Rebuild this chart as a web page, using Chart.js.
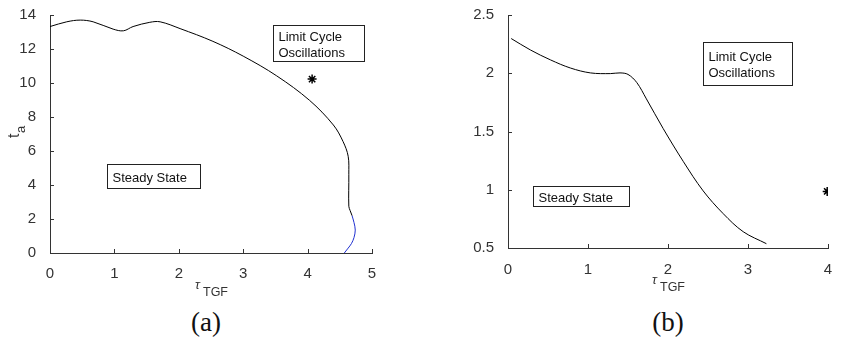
<!DOCTYPE html>
<html>
<head>
<meta charset="utf-8">
<script src="https://cdn.jsdelivr.net/npm/chart.js@4"></script>
<style>
  body { margin: 0; background: #fff; width: 863px; height: 350px; position: relative; overflow: hidden; }
  .panel { position: absolute; top: 0; height: 300px; }
  .cap { position: absolute; top: 307px; font-family: "Liberation Serif", "DejaVu Serif", serif; font-size: 27px; color: #111; transform: translateX(-50%); }
</style>
</head>
<body>
<div class="panel" style="left:0;width:400px"><canvas id="chartA" width="400" height="300"></canvas></div>
<div class="panel" style="left:430px;width:433px"><canvas id="chartB" width="433" height="300"></canvas></div>
<div class="cap" style="left:206px">(a)</div>
<div class="cap" style="left:668px">(b)</div>
<script>
// --- datos panel (a) ---
const aBlackX = [0, 0.26, 0.47, 0.67, 0.98, 1.14, 1.29, 1.55, 1.71, 2.02, 2.53, 3.0, 3.52, 4.03, 4.4, 4.55, 4.63, 4.64, 4.64, 4.66, 4.69];
const aBlackY = [13.32, 13.6, 13.7, 13.6, 13.17, 13.07, 13.32, 13.57, 13.6, 13.2, 12.45, 11.58, 10.42, 8.98, 7.53, 6.56, 5.69, 4.63, 2.75, 2.5, 2.2];
const aBlueX = [4.69, 4.72, 4.74, 4.72, 4.68, 4.63, 4.57];
const aBlueY = [2.2, 1.8, 1.35, 0.9, 0.55, 0.29, 0];
const aStar = { x: 4.07, y: 10.23 };
const aXTicks = [0, 1, 2, 3, 4, 5];
const aYTicks = [0, 2, 4, 6, 8, 10, 12, 14];

// --- datos panel (b) ---
const bX = [0.04, 0.28, 0.53, 0.78, 1.03, 1.28, 1.4, 1.5, 1.61, 1.73, 1.94, 2.19, 2.44, 2.69, 2.94, 3.23];
const bY = [2.298, 2.2, 2.115, 2.045, 2.003, 1.997, 2.003, 1.99, 1.92, 1.78, 1.525, 1.244, 0.99, 0.795, 0.64, 0.537];
const bStar = { x: 3.99, y: 0.986 };
const bXTicks = [0, 1, 2, 3, 4];
const bYTicks = [0.5, 1, 1.5, 2, 2.5];

const FONT = '"Liberation Sans", Arial, sans-serif';
const AXIS = '#333';

function pts(xs, ys) {
    return xs.map((x, i) => ({ x: x, y: ys[i] }));
}

// ticks hacia dentro, cajas de texto y titulos de ejes
const decorPlugin = {
    id: 'decor',
    afterDraw(chart, args, opts) {
        const ctx = chart.ctx;
        const xs = chart.scales.x, ys = chart.scales.y;
        const area = chart.chartArea;
        ctx.save();
        ctx.strokeStyle = AXIS;
        ctx.lineWidth = 1;
        ctx.beginPath();
        xs.ticks.forEach(t => {
            const px = Math.round(xs.getPixelForValue(t.value)) + 0.5;
            ctx.moveTo(px, area.bottom); ctx.lineTo(px, area.bottom - 4);
        });
        ys.ticks.forEach(t => {
            const py = Math.round(ys.getPixelForValue(t.value)) + 0.5;
            ctx.moveTo(area.left, py); ctx.lineTo(area.left + 4, py);
        });
        ctx.stroke();

        // cajas
        ctx.font = '13px ' + FONT;
        ctx.textBaseline = 'alphabetic';
        opts.boxes.forEach(b => {
            const l = Math.round(xs.getPixelForValue(b.x0)) + 0.5;
            const r = Math.round(xs.getPixelForValue(b.x1)) + 0.5;
            const t = Math.round(ys.getPixelForValue(b.y0)) + 0.5;
            const bt = Math.round(ys.getPixelForValue(b.y1)) + 0.5;
            ctx.fillStyle = '#fff';
            ctx.fillRect(l, t, r - l, bt - t);
            ctx.strokeStyle = '#222';
            ctx.strokeRect(l, t, r - l, bt - t);
            ctx.fillStyle = '#111';
            const lh = 16;
            const startY = (t + bt) / 2 - (b.lines.length - 1) * lh / 2 + 5;
            b.lines.forEach((s, i) => ctx.fillText(s, l + 5, startY + i * lh));
        });

        // titulo eje x: tau_TGF
        ctx.fillStyle = '#333';
        const cx = (area.left + area.right) / 2;
        ctx.font = 'italic 13px ' + FONT;
        ctx.fillText('\u03C4', cx - 16, opts.xTitleY - 7);
        ctx.font = '12.5px ' + FONT;
        ctx.fillText('TGF', cx - 8, opts.xTitleY);

        // titulo eje y: t_sub
        ctx.translate(opts.yTitleX, (area.top + area.bottom) / 2 + 4);
        ctx.rotate(-Math.PI / 2);
        ctx.font = '16px ' + FONT;
        ctx.fillText('t', 0, 0);
        ctx.font = '13px ' + FONT;
        ctx.fillText(opts.ySub, 5, 6);
        ctx.restore();
    }
};

function axisOpts(min, max, tickVals, width, height, pad) {
    return {
        type: 'linear',
        min: min,
        max: max,
        afterBuildTicks: s => { s.ticks = tickVals.map(v => ({ value: v })); },
        afterFit: s => {
            if (width) s.width = width;
            if (height) s.height = height;
        },
        grid: { display: false },
        border: { display: true, color: AXIS, width: 1 },
        ticks: {
            font: { family: FONT, size: 15 },
            color: '#333',
            padding: pad,
            autoSkip: false,
            maxRotation: 0,
            callback: v => String(v)
        }
    };
}

// === (a) ===
new Chart(document.getElementById('chartA'), {
    type: 'scatter',
    data: {
        datasets: [
            { data: pts(aBlackX, aBlackY), showLine: true, borderColor: '#000', borderWidth: 1, pointRadius: 0, tension: 0.35 },
            { data: pts(aBlueX, aBlueY), showLine: true, borderColor: '#1f2fd0', borderWidth: 1, pointRadius: 0, tension: 0.35 },
            { data: [aStar], pointStyle: 'star', pointRadius: 4.5, borderColor: '#000', borderWidth: 1.5 }
        ]
    },
    options: {
        responsive: false,
        animation: false,
        events: [],
        layout: { padding: { top: 12, right: 28, left: 0, bottom: 0 } },
        plugins: {
            legend: { display: false },
            tooltip: { enabled: false },
            decor: {
                boxes: [
                    { x0: 3.46, x1: 4.88, y0: 13.43, y1: 11.28, lines: ['Limit Cycle', 'Oscillations'] },
                    { x0: 0.885, x1: 2.33, y0: 5.23, y1: 3.84, lines: ['Steady State'] }
                ],
                xTitleY: 296,
                yTitleX: 19,
                ySub: 'a'
            }
        },
        scales: {
            x: axisOpts(0, 5, aXTicks, null, 47, 4),
            y: axisOpts(0, 14, aYTicks, 50, null, 6)
        }
    },
    plugins: [decorPlugin]
});

// === (b) ===
new Chart(document.getElementById('chartB'), {
    type: 'scatter',
    data: {
        datasets: [
            { data: pts(bX, bY), showLine: true, borderColor: '#000', borderWidth: 1, pointRadius: 0, tension: 0.35 },
            { data: [bStar], pointStyle: 'star', pointRadius: 4.5, borderColor: '#000', borderWidth: 1.5 }
        ]
    },
    options: {
        responsive: false,
        animation: false,
        events: [],
        layout: { padding: { top: 11, right: 35, left: 0, bottom: 0 } },
        plugins: {
            legend: { display: false },
            tooltip: { enabled: false },
            decor: {
                boxes: [
                    { x0: 2.44, x1: 3.55, y0: 2.272, y1: 1.90, lines: ['Limit Cycle', 'Oscillations'] },
                    { x0: 0.31, x1: 1.51, y0: 1.032, y1: 0.863, lines: ['Steady State'] }
                ],
                xTitleY: 291,
                yTitleX: 466,
                ySub: 'd'
            }
        },
        scales: {
            x: axisOpts(0, 4, bXTicks, null, 52, 5),
            y: axisOpts(0.5, 2.5, bYTicks, 78, null, 6)
        }
    },
    plugins: [decorPlugin]
});
</script>
</body>
</html>
